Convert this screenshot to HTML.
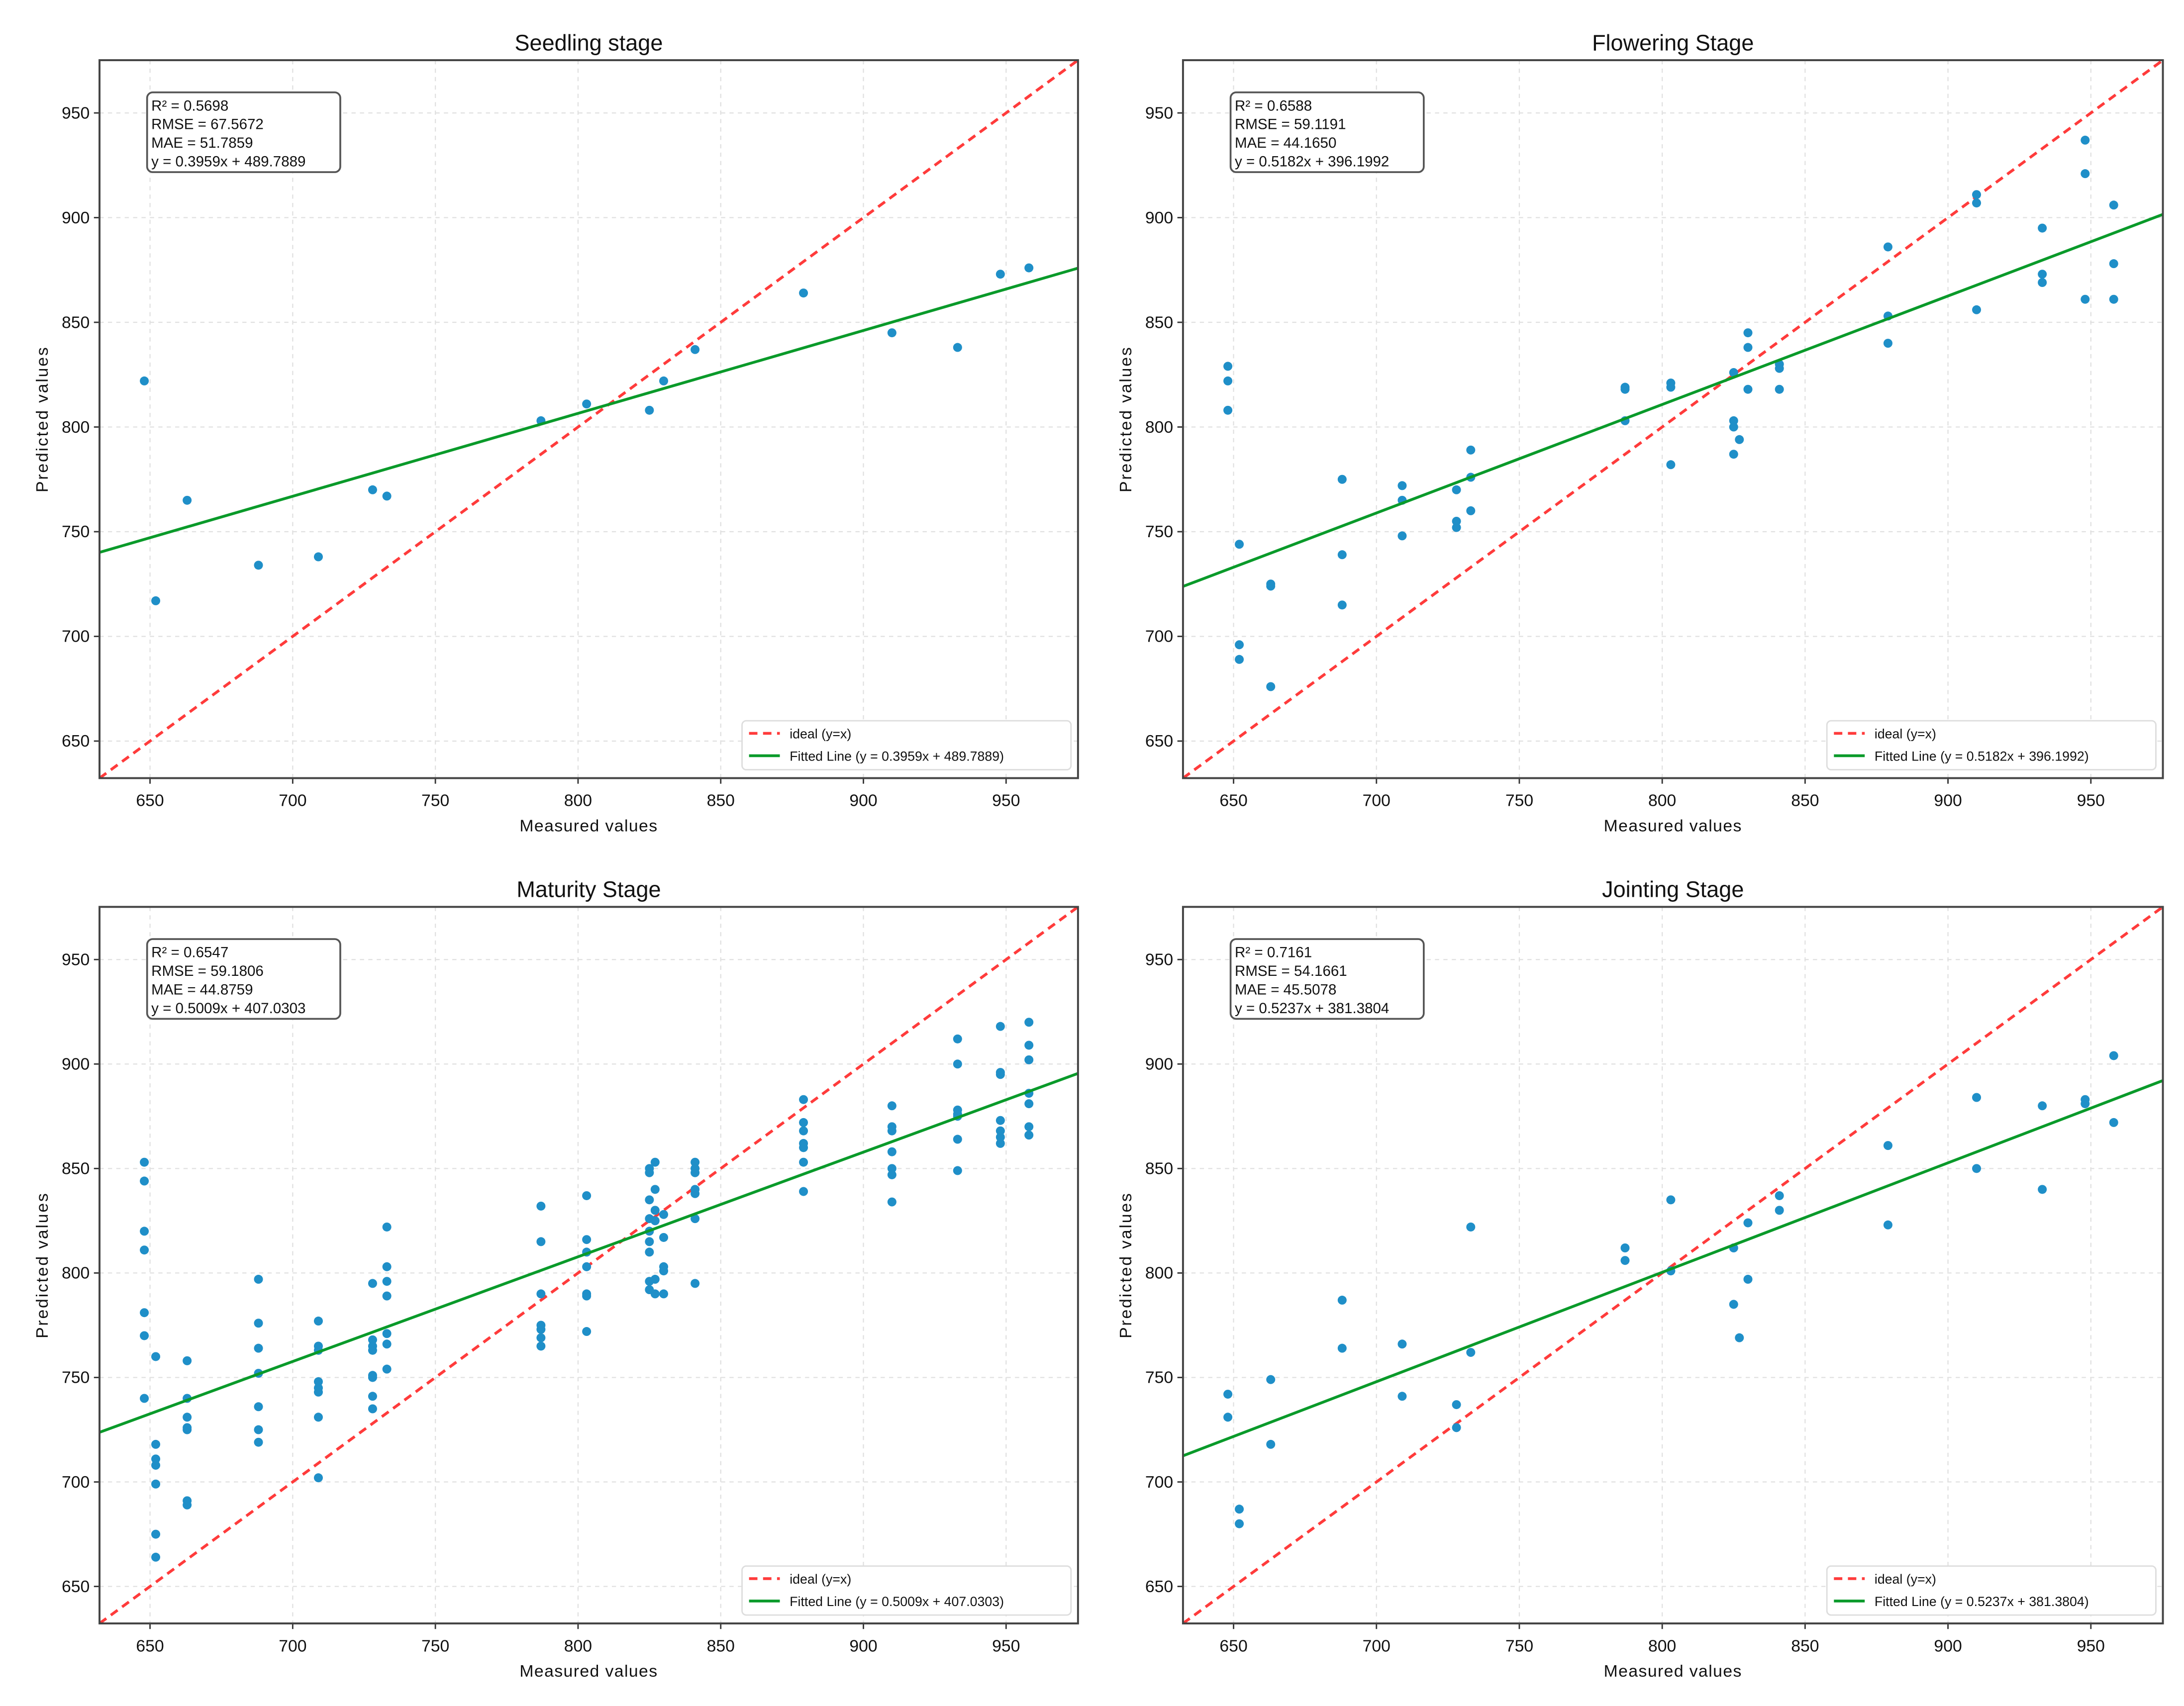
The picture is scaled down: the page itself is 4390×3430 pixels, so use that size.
<!DOCTYPE html>
<html><head><meta charset="utf-8"><style>
html,body{margin:0;padding:0;background:#fff;}
svg{display:block;}
text{font-family:"Liberation Sans","Noto Sans CJK SC",sans-serif;fill:#111;}
</style></head><body>
<svg id="fig" width="4390" height="3430" viewBox="0 0 1560 1219" xmlns="http://www.w3.org/2000/svg"></svg>
<script>
const xTicks=[650,700,750,800,850,900,950];
const yTicks=[650,700,750,800,850,900,950];
const panelTitles=["Seedling stage","Flowering Stage","Maturity Stage","Jointing Stage"];
const panelNames=["seedling","flowering","maturity","jointing"];
const slopes=[0.3959,0.5182,0.5009,0.5237];
const intercepts=[489.7889,396.1992,407.0303,381.3804];
const r2Labels=["0.5698","0.6588","0.6547","0.7161"];
const rmseLabels=["67.5672","59.1191","59.1806","54.1661"];
const maeLabels=["51.7859","44.1650","44.8759","45.5078"];

const seedlingX=[648,652,663,688,709,728,733,787,803,825,830,841,879,910,933,948,958];
const seedlingY=[822,717,765,734,738,770,767,803,811,808,822,837,864,845,838,873,876];

const floweringX=[648,648,648,652,652,652,663,663,663,688,688,688,709,709,709,728,728,728,733,733,733,787,787,787,803,803,803,825,825,825,825,827,830,830,830,841,841,841,879,879,879,910,910,910,933,933,933,948,948,948,958,958,958];
const floweringY=[829,822,808,744,696,689,725,724,676,775,739,715,772,765,748,770,755,752,789,776,760,819,818,803,821,819,782,826,803,800,787,794,845,838,818,830,828,818,886,853,840,911,907,856,895,873,869,937,921,861,906,878,861];

const maturityX=[648,648,648,648,648,648,648,652,652,652,652,652,652,652,663,663,663,663,663,663,663,688,688,688,688,688,688,688,709,709,709,709,709,709,709,709,728,728,728,728,728,728,728,728,733,733,733,733,733,733,733,787,787,787,787,787,787,787,803,803,803,803,803,803,803,825,825,825,825,825,825,825,825,825,827,827,827,827,827,827,830,830,830,830,830,841,841,841,841,841,841,841,879,879,879,879,879,879,879,910,910,910,910,910,910,910,933,933,933,933,933,933,933,948,948,948,948,948,948,948,958,958,958,958,958,958,958];
const maturityY=[853,844,820,811,781,770,740,760,718,711,708,699,675,664,758,740,731,726,725,691,689,797,776,764,752,736,725,719,777,765,763,748,745,743,731,702,795,768,765,763,751,750,741,735,822,803,796,789,771,766,754,832,815,790,775,773,769,765,837,816,810,803,790,789,772,850,848,835,826,820,815,810,796,792,853,840,830,825,797,790,828,817,803,801,790,853,850,848,840,838,826,795,883,872,868,862,860,853,839,880,870,868,858,850,847,834,912,900,878,876,875,864,849,918,896,895,873,868,865,862,920,909,902,886,881,870,866];

const jointingX=[648,648,652,652,663,663,688,688,709,709,728,728,733,733,787,787,803,803,825,825,827,830,830,841,841,879,879,910,910,933,933,948,948,958,958];
const jointingY=[742,731,687,680,749,718,787,764,766,741,737,726,822,762,812,806,835,801,812,785,769,824,797,837,830,861,823,884,850,880,840,883,881,904,872];

const panelXs=[seedlingX,floweringX,maturityX,jointingX];
const panelYs=[seedlingY,floweringY,maturityY,jointingY];

const NS="http://www.w3.org/2000/svg";
const svg=document.getElementById('fig');
function mk(tag,attrs,parent){const e=document.createElementNS(NS,tag);for(const k in attrs)e.setAttribute(k,attrs[k]);(parent||svg).appendChild(e);return e;}

const LO=632.3, HI=975.2;
const boxes=[{l:71,t:43,r:770,b:556},{l:845,t:43,r:1545,b:556},{l:71,t:648,r:770,b:1160},{l:845,t:648,r:1545,b:1160}];

boxes.forEach((B,i)=>{
  const g=mk('g',{});
  
  
  const sx=v=>B.l+(v-LO)/(HI-LO)*(B.r-B.l);
  const sy=v=>B.b-(v-LO)/(HI-LO)*(B.b-B.t);
  const clipId='clip'+i;
  const cp=mk('clipPath',{id:clipId},g);
  mk('rect',{x:B.l,y:B.t,width:B.r-B.l,height:B.b-B.t},cp);
  // grid
  xTicks.forEach(t=>{
    const l=mk('line',{x1:sx(t),x2:sx(t),y1:B.t,y2:B.b,stroke:'#e0e0e0','stroke-width':0.8,'stroke-dasharray':'3,3'},g);
    
    
    const tk=mk('line',{x1:sx(t),x2:sx(t),y1:B.b,y2:B.b+4,stroke:'#333','stroke-width':1},g);
    const tx=mk('text',{x:sx(t),y:B.b+20,'text-anchor':'middle','font-size':12},g);
    tx.textContent=t;
    
    
  });
  yTicks.forEach(t=>{
    const l=mk('line',{x1:B.l,x2:B.r,y1:sy(t),y2:sy(t),stroke:'#e0e0e0','stroke-width':0.8,'stroke-dasharray':'3,3'},g);
    
    
    mk('line',{x1:B.l-4,x2:B.l,y1:sy(t),y2:sy(t),stroke:'#333','stroke-width':1},g);
    const tx=mk('text',{x:B.l-7,y:sy(t)+4,'text-anchor':'end','font-size':12},g);
    tx.textContent=t;
    
    
  });
  const cg=mk('g',{'clip-path':'url(#'+clipId+')'},g);
  // ideal line
  const il=mk('line',{x1:sx(LO),y1:sy(LO),x2:sx(HI),y2:sy(HI),stroke:'#ff3b3b','stroke-width':2,'stroke-dasharray':'6,4'},cg);
  
  
  // points
  const xs=panelXs[i], ys=panelYs[i];
  xs.forEach((x,k)=>{
    const c=mk('circle',{cx:sx(x),cy:sy(ys[k]),r:3.2,fill:'#1f8fc8'},cg);
    
    
  });
  // fitted
  const fl=mk('line',{x1:sx(LO),y1:sy(slopes[i]*LO+intercepts[i]),x2:sx(HI),y2:sy(slopes[i]*HI+intercepts[i]),stroke:'#0a9a2a','stroke-width':2},cg);
  
  
  // frame
  const fr=mk('rect',{x:B.l,y:B.t,width:B.r-B.l,height:B.b-B.t,fill:'none',stroke:'#444','stroke-width':1.4},g);
  
  
  // title
  const ti=mk('text',{x:(B.l+B.r)/2,y:B.t-7,'text-anchor':'middle','font-size':16},g);
  ti.textContent=panelTitles[i];
  
  
  const xl=mk('text',{x:(B.l+B.r)/2,y:B.b+38,'text-anchor':'middle','font-size':12,'letter-spacing':'0.5'},g);
  xl.textContent='Measured values';
  
  
  const yl=mk('text',{x:0,y:0,'text-anchor':'middle','font-size':12,'letter-spacing':'1',transform:'translate('+(B.l-37)+','+((B.t+B.b)/2)+') rotate(-90)'},g);
  yl.textContent='Predicted values';
  
  
  // stats box
  const sb=mk('g',{},g);
  
  
  mk('rect',{x:B.l+34,y:B.t+23,width:138,height:57,rx:4,fill:'#fff',stroke:'#555','stroke-width':1.3},sb);
  const lines=['R² = '+r2Labels[i],'RMSE = '+rmseLabels[i],'MAE = '+maeLabels[i],'y = '+slopes[i].toFixed(4)+'x + '+intercepts[i].toFixed(4)];
  lines.forEach((s,k)=>{
    const t=mk('text',{x:B.l+37,y:B.t+36+k*13.3,'font-size':10.5},sb);
    t.textContent=s;
  });
  // legend
  const lg=mk('g',{},g);
  
  
  mk('rect',{x:B.r-240,y:B.b-41,width:235,height:35,rx:3,fill:'#fff',stroke:'#ddd','stroke-width':1},lg);
  mk('line',{x1:B.r-235,x2:B.r-213,y1:B.b-32,y2:B.b-32,stroke:'#ff3b3b','stroke-width':2,'stroke-dasharray':'6,4'},lg);
  const t1=mk('text',{x:B.r-206,y:B.b-28.5,'font-size':9.5},lg);
  t1.textContent='ideal (y=x)';
  mk('line',{x1:B.r-235,x2:B.r-213,y1:B.b-16,y2:B.b-16,stroke:'#0a9a2a','stroke-width':2},lg);
  const t2=mk('text',{x:B.r-206,y:B.b-12.5,'font-size':9.5},lg);
  t2.textContent='Fitted Line (y = '+slopes[i].toFixed(4)+'x + '+intercepts[i].toFixed(4)+')';
});
</script>
</body></html>
